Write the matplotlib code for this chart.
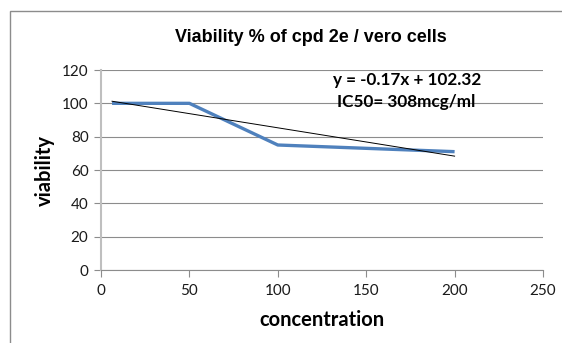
import matplotlib
matplotlib.use("Agg")
import matplotlib.pyplot as plt
import numpy as np
from matplotlib.patches import Rectangle

# data
concentration = [6.25, 50, 100, 200]
viability = [100, 100, 75, 71]
trend_slope = -0.17
trend_intercept = 102.32
x_ticks = [0, 50, 100, 150, 200, 250]
y_ticks = [0, 20, 40, 60, 80, 100, 120]

plt.rcParams['font.family'] = ['Lato', 'DejaVu Sans']

fig = plt.figure(figsize=(5.62, 3.43), dpi=100)

# chart area border (cropped on right and bottom)
fig.patches.append(Rectangle((10 / 562, -0.1), 1.2, 1 - 11 / 343 + 0.1,
                             transform=fig.transFigure, fill=False,
                             edgecolor='#8c8c8c', linewidth=1.0))

ax = fig.add_axes([101 / 562, 1 - 270 / 343, 442 / 562, 200 / 343])

ax.plot(concentration, viability, color='#4f81bd', linewidth=2.4,
        solid_capstyle='butt', zorder=3)
tx = np.array([concentration[0], concentration[-1]])
ax.plot(tx, trend_slope * tx + trend_intercept, color='black',
        linewidth=0.7, zorder=4)

ax.set_xlim(0, 250)
ax.set_ylim(0, 120)
ax.set_xticks(x_ticks)
ax.set_yticks(y_ticks)
ax.yaxis.grid(True, color='#8c8c8c', linewidth=0.8)
ax.set_axisbelow(True)

for s in ['top', 'right']:
    ax.spines[s].set_visible(False)
ax.spines['left'].set_color('#bfbfbf')
ax.spines['left'].set_linewidth(1.5)
ax.spines['bottom'].set_color('#8c8c8c')
ax.spines['bottom'].set_linewidth(0.8)
ax.tick_params(axis='both', direction='out', length=5, width=0.8,
               color='#8c8c8c', labelsize=11, labelcolor='#1a1a1a')
ax.tick_params(axis='x', pad=5)
ax.tick_params(axis='y', pad=4)

ax.set_xlabel('concentration', fontsize=14.5, fontweight='bold', labelpad=9)
ax.set_ylabel('viability', fontsize=14.5, fontweight='bold', labelpad=5)

fig.text(311 / 562, 1 - 38 / 343, 'Viability % of cpd 2e / vero cells',
         ha='center', va='center', fontsize=13, fontweight='bold',
         family=['Liberation Sans', 'DejaVu Sans'])

ax.text(407 / 562, 1 - 80 / 343, 'y = -0.17x + 102.32', transform=fig.transFigure,
        ha='center', va='center', fontsize=12.3, fontweight='bold')
ax.text(406 / 562, 1 - 102 / 343, 'IC50= 308mcg/ml', transform=fig.transFigure,
        ha='center', va='center', fontsize=12.3, fontweight='bold')

fig.savefig('out.png', dpi=100)
